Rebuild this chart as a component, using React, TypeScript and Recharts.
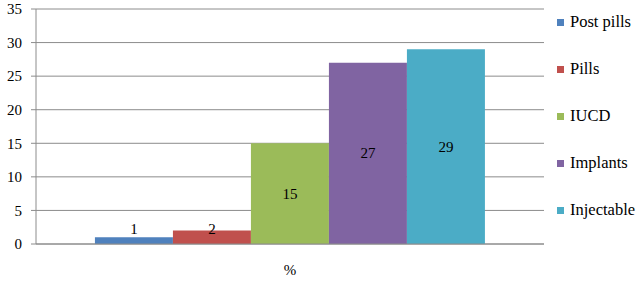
import { Bar, BarChart, CartesianGrid, LabelList, XAxis, YAxis } from "recharts"

const categories = ["%"]
const seriesNames = ["Post pills", "Pills", "IUCD", "Implants", "Injectable"]
const seriesValues = [1, 2, 15, 27, 29]
const seriesColors = ["#4F81BD", "#C0504D", "#9BBB59", "#8064A2", "#4BACC6"]
const yTicks = [0, 5, 10, 15, 20, 25, 30, 35]

const keys = seriesNames.map((_, i) => `s${i}`)
const rows = categories.map((name) => {
  const row: Record<string, string | number> = { name }
  keys.forEach((k, i) => {
    row[k] = seriesValues[i]
  })
  return row
})

const FONT = "Liberation Serif, Tinos, DejaVu Serif, serif"
const AXIS = "#8c8c8c"

// Excel centres labels in the bar, but lifts them above the baseline when the bar is too short
function CenterLabel(props: any) {
  const { x, y, width, height, value } = props
  const base = y + height
  const cy = Math.min(y + height / 2, base - 15)
  return (
    <text
      x={x + width / 2}
      y={cy}
      textAnchor="middle"
      dominantBaseline="central"
      style={{ fontFamily: FONT }}
      fontSize={15}
      fill="#000"
    >
      {value}
    </text>
  )
}

function LegendList() {
  return (
    <div style={{ position: "absolute", left: 557, top: 12, fontFamily: FONT, fontSize: 16.5, color: "#000" }}>
      {seriesNames.map((n, i) => (
        <div
          key={n}
          style={{ display: "flex", alignItems: "center", height: 20, marginBottom: i < seriesNames.length - 1 ? 27 : 0 }}
        >
          <span
            style={{ width: 7, height: 7, background: seriesColors[i], marginRight: 6, display: "inline-block" }}
          />
          <span style={{ whiteSpace: "nowrap" }}>{n}</span>
        </div>
      ))}
    </div>
  )
}

export default function App() {
  const tickStyle = { fontSize: 15, fill: "#000", style: { fontFamily: FONT } }
  return (
    <div style={{ position: "absolute", left: 0, top: 0, width: 640, height: 281, background: "#fff" }}>
      <BarChart
        width={640}
        height={281}
        data={rows}
        margin={{ top: 9, right: 96, bottom: 0, left: 0 }}
        barCategoryGap="11.6%"
        barGap={0}
      >
        <CartesianGrid vertical={false} stroke={AXIS} strokeWidth={1} />
        <XAxis dataKey="name" height={37} stroke={AXIS} tickLine={false} tickMargin={14} tick={tickStyle} />
        <YAxis
          width={36}
          domain={[0, 35]}
          ticks={yTicks}
          interval={0}
          stroke={AXIS}
          tickSize={5}
          tickMargin={9}
          tick={tickStyle}
        />
        {keys.map((k, i) => (
          <Bar key={k} dataKey={k} name={seriesNames[i]} fill={seriesColors[i]} isAnimationActive={false}>
            <LabelList dataKey={k} content={CenterLabel} />
          </Bar>
        ))}
      </BarChart>
      <LegendList />
    </div>
  )
}
